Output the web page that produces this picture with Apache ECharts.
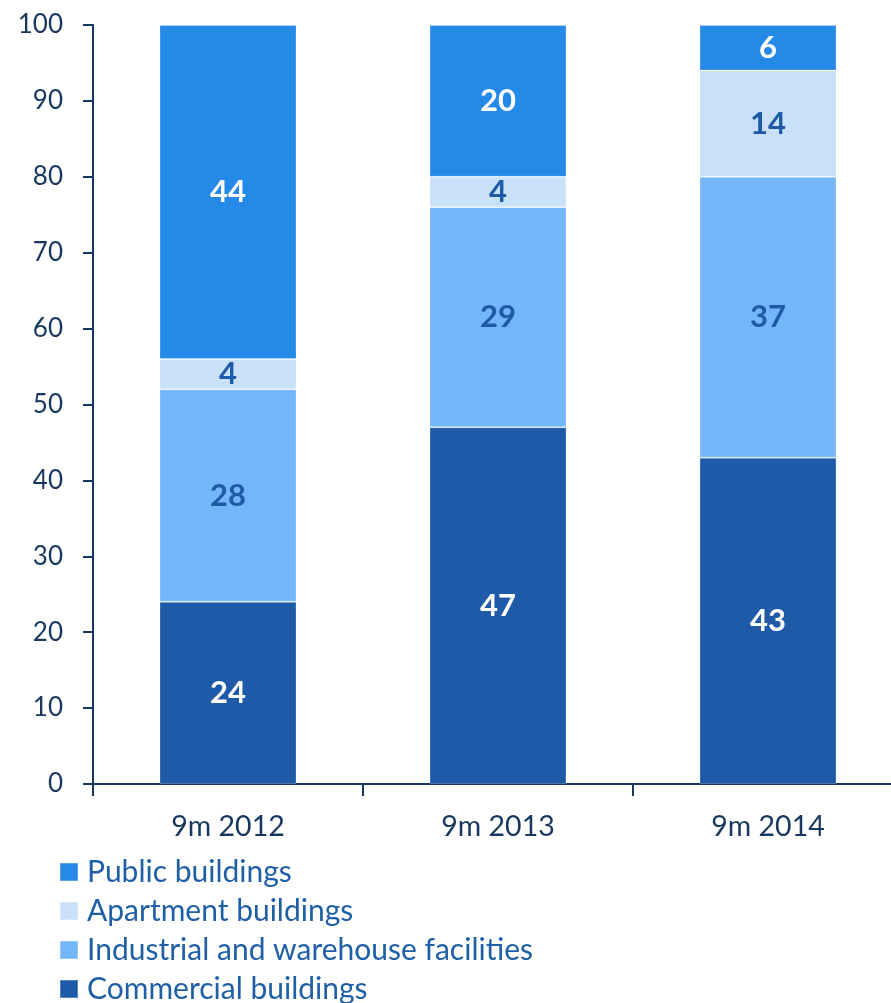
<!DOCTYPE html>
<html>
<head>
<meta charset="utf-8">
<script src="https://cdn.jsdelivr.net/npm/echarts@6/dist/echarts.min.js"></script>
<style>
  html, body { margin: 0; padding: 0; background: #fff; }
  #main { width: 891px; height: 1003px; }
</style>
</head>
<body>
<div id="main"></div>
<script>
var categories = ['9m 2012', '9m 2013', '9m 2014'];
var commercial = [24, 47, 43];
var industrial = [28, 29, 37];
var apartment = [4, 4, 14];
var publicB = [44, 20, 6];
var yTicks = [0, 10, 20, 30, 40, 50, 60, 70, 80, 90, 100];
var legendNames = ['Public buildings', 'Apartment buildings', 'Industrial and warehouse facilities', 'Commercial buildings'];

var font = 'Lato';
var navy = '#17375e';

function seg(name, data, color, labelColor) {
	return {
		name: name,
		type: 'bar',
		stack: 'total',
		barWidth: 137,
		data: data,
		itemStyle: { color: color, borderColor: 'rgba(255,255,255,0.25)', borderWidth: 1 },
		label: {
			show: true,
			position: 'inside',
			color: labelColor,
			fontFamily: font,
			fontWeight: 'bold',
			fontSize: 31
		}
	};
}

/*图例：每项一行*/
var legends = legendNames.map(function (n, i) {
	return {
		orient: 'vertical',
		left: 59,
		top: 857 + i * 39,
		padding: 0,
		itemWidth: 18,
		itemHeight: 18,
		icon: 'rect',
		data: [n],
		textStyle: { color: '#1f5fa6', fontFamily: font, fontSize: 30, padding: [0, 0, 0, 4] }
	};
});

var myChart = echarts.init(document.getElementById('main'));
var option = {
	animation: false,
	grid: { left: 93, top: 25, width: 810, bottom: 219, containLabel: false, outerBoundsMode: 'none' },
	legend: legends,
	xAxis: {
		type: 'category',
		data: categories,
		axisLine: { lineStyle: { color: navy, width: 2 } },
		axisTick: { show: true, length: 12, lineStyle: { color: navy, width: 2 } },
		axisLabel: { color: navy, fontFamily: font, fontSize: 28.5, margin: 28 }
	},
	yAxis: {
		type: 'value',
		min: yTicks[0],
		max: yTicks[yTicks.length - 1],
		interval: 10,
		splitLine: { show: false },
		axisLine: { show: true, lineStyle: { color: navy, width: 2 } },
		axisTick: { show: true, length: 10, lineStyle: { color: navy, width: 2 } },
		axisLabel: { color: navy, fontFamily: font, fontSize: 26, margin: 30 }
	},
	series: [
		seg('Commercial buildings', commercial, '#1f5aa8', '#ffffff'),
		seg('Industrial and warehouse facilities', industrial, '#73b6fa', '#1f5aa6'),
		seg('Apartment buildings', apartment, '#c8e1f8', '#1f5aa6'),
		seg('Public buildings', publicB, '#2589e8', '#ffffff')
	]
};
myChart.setOption(option);
</script>
</body>
</html>
